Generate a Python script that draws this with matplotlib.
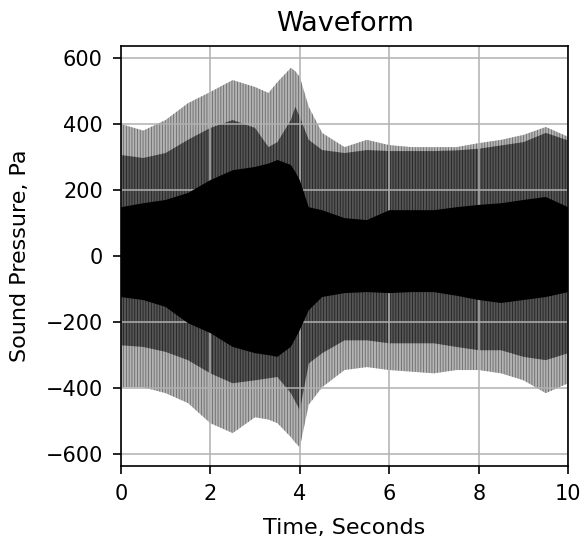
import matplotlib
matplotlib.use("Agg")
import matplotlib.pyplot as plt

# envelope of the waveform (Pa)
t = [0, 0.5, 1.0, 1.5, 2.0, 2.5, 3.0, 3.3, 3.5, 3.8, 3.9, 4.0, 4.2, 4.5,
     5.0, 5.5, 6.0, 6.5, 7.0, 7.5, 8.0, 8.5, 9.0, 9.5, 10.0]

outer_hi = [400, 380, 412, 463, 497, 533, 512, 494, 527, 570, 560, 542, 452, 373,
            330, 352, 336, 330, 330, 330, 342, 352, 367, 391, 361]
mid_hi = [306, 297, 312, 352, 388, 412, 388, 330, 345, 412, 452, 421, 352, 321,
          312, 321, 318, 318, 318, 320, 325, 335, 345, 373, 350]
core_hi = [148, 160, 170, 191, 230, 260, 270, 280, 291, 276, 255, 230, 148, 139,
           115, 109, 139, 139, 139, 148, 155, 160, 170, 179, 148]

core_lo = [-124, -133, -154, -203, -233, -275, -294, -300, -305, -275, -250, -224, -164, -124,
           -112, -109, -112, -109, -109, -120, -133, -142, -133, -124, -109]
mid_lo = [-270, -275, -290, -315, -355, -385, -376, -370, -366, -415, -440, -467, -325, -294,
          -255, -255, -264, -264, -264, -275, -285, -285, -305, -315, -294]
outer_lo = [-397, -397, -415, -445, -506, -536, -488, -495, -506, -548, -565, -579, -450, -397,
            -345, -336, -345, -350, -355, -345, -345, -355, -376, -415, -385]

plt.rcParams['hatch.linewidth'] = 0.6

fig = plt.figure(figsize=(5.81, 5.42), dpi=100)
ax = fig.add_axes([0.208, 0.140, 0.770, 0.775])

ax.fill_between(t, outer_lo, outer_hi, facecolor='#b4b4b4', edgecolor='#6a6a6a',
                hatch='||||||', linewidth=0, zorder=1)
ax.fill_between(t, mid_lo, mid_hi, facecolor='#555555', edgecolor='#222222',
                hatch='||||||', linewidth=0, zorder=1.5)
ax.fill_between(t, core_lo, core_hi, facecolor='black', linewidth=0, zorder=3)

ax.set_xlim(0, 10)
ax.set_ylim(-636, 636)
ax.set_xticks([0, 2, 4, 6, 8, 10])
ax.set_yticks([-600, -400, -200, 0, 200, 400, 600])
ax.grid(True, color='#b0b0b0', linewidth=1.1)
ax.set_axisbelow(False)
ax.tick_params(labelsize=15, length=6, width=1.2, pad=7)
for s in ax.spines.values():
    s.set_linewidth(1.2)
    s.set_zorder(4)

ax.set_title('Waveform', fontsize=19.5, pad=11)
ax.set_xlabel('Time, Seconds', fontsize=16, labelpad=10)
ax.set_ylabel('Sound Pressure, Pa', fontsize=16, labelpad=11)

fig.savefig('out.png', dpi=100)
